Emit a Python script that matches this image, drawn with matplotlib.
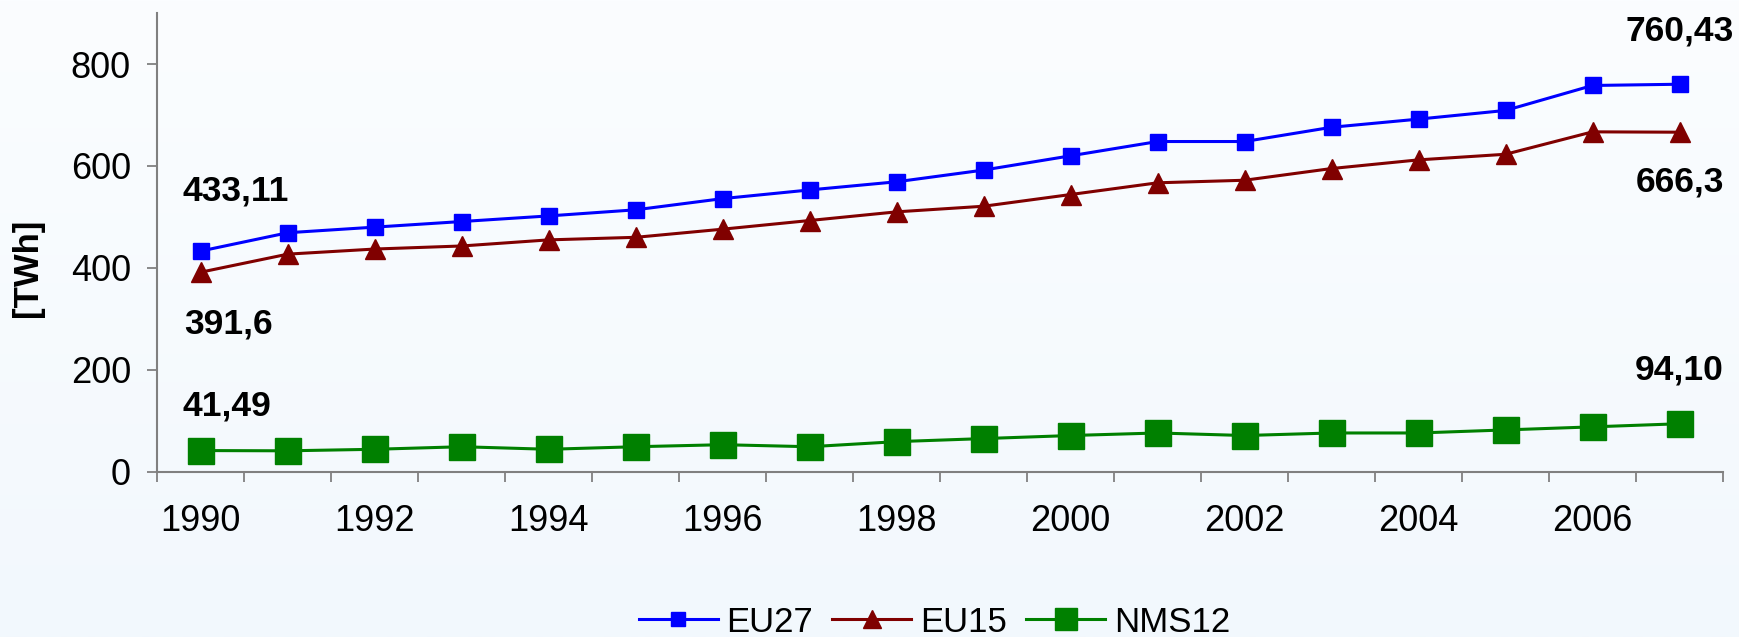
import numpy as np
import matplotlib
matplotlib.use('Agg')
import matplotlib.pyplot as plt

plt.rcParams['font.family'] = ['Liberation Sans', 'DejaVu Sans']

years = list(range(1990, 2008))
eu27 = [433.11, 469, 480, 491, 502, 514, 536, 553, 569, 592, 620, 648, 648, 676, 692, 709, 758, 760.43]
eu15 = [391.6, 427, 437, 443, 455, 460, 476, 493, 510, 521, 544, 567, 572, 595, 612, 623, 667, 666.3]
nms12 = [41.49, 41, 44, 49, 44, 49, 53, 49, 59, 65, 71, 76, 71, 76, 76, 82, 88, 94.10]
yticks = [0, 200, 400, 600, 800]

x = np.arange(len(years))

fig = plt.figure(figsize=(17.39, 6.37), dpi=100)

# light gradient background
bg = fig.add_axes([0, 0, 1, 1], zorder=-10)
top = np.array([251, 253, 255]) / 255
bot = np.array([242, 248, 253]) / 255
t = np.linspace(0, 1, 256)[:, None]
grad = (top * (1 - t) + bot * t)[:, None, :]
bg.imshow(grad, aspect='auto', extent=[0, 1, 0, 1])
bg.axis('off')

ax = fig.add_axes([0.0905, 0.2595, 0.9003, 0.7199])
ax.patch.set_alpha(0)

ax.plot(x, eu27, color='#0000ff', lw=2.2, marker='s', ms=12, mec='#0000ff', label='EU27', zorder=4)
ax.plot(x, eu15, color='#800000', lw=2.2, marker='^', ms=14.5, mec='#800000', label='EU15', zorder=3)
ax.plot(x, nms12, color='#008000', lw=2.2, marker='s', ms=18.5, mec='#008000', label='NMS12', zorder=3)

ax.set_xlim(-0.5, len(years) - 0.5)
ax.set_ylim(0, 900)

for s in ['top', 'right']:
    ax.spines[s].set_visible(False)
for s in ['left', 'bottom']:
    ax.spines[s].set_color('#808080')
    ax.spines[s].set_linewidth(1.5)

# category axis: ticks between categories, labels every second year
ax.set_xticks(np.arange(-0.5, len(years)), labels=[])
ax.set_xticks(x[::2], labels=[str(y) for y in years[::2]], minor=True)
ax.tick_params(axis='x', which='major', direction='out', length=7, width=1.3, color='#808080')
ax.tick_params(axis='x', which='minor', length=0, pad=23, labelsize=26)
ax.set_yticks(yticks)
ax.tick_params(axis='y', direction='out', length=7, width=1.3, color='#808080', pad=12, labelsize=26)

ax.text(-0.083, 0.444, '[TWh]', transform=ax.transAxes, rotation=90, ha='center', va='center',
        fontsize=25, fontweight='bold')

lab = dict(fontsize=25.5, fontweight='bold', ha='center', va='center', textcoords='offset points')
ax.annotate('433,11', (x[0], eu27[0]), xytext=(25, 43), **lab)
ax.annotate('391,6', (x[0], eu15[0]), xytext=(20, -37), **lab)
ax.annotate('41,49', (x[0], nms12[0]), xytext=(19, 32), **lab)
ax.annotate('760,43', (x[-1], eu27[-1]), xytext=(0, 38), **lab)
ax.annotate('666,3', (x[-1], eu15[-1]), xytext=(0, -36), **lab)
ax.annotate('94,10', (x[-1], nms12[-1]), xytext=(0, 39), **lab)

ax.legend(loc='center', bbox_to_anchor=(934.5 / 1739, 15 / 637), bbox_transform=fig.transFigure,
          ncol=3, frameon=False, fontsize=25, handlelength=2.27, handletextpad=0.26,
          columnspacing=0.55, borderpad=0, markerscale=0.85)

fig.savefig('out.png', dpi=100)
